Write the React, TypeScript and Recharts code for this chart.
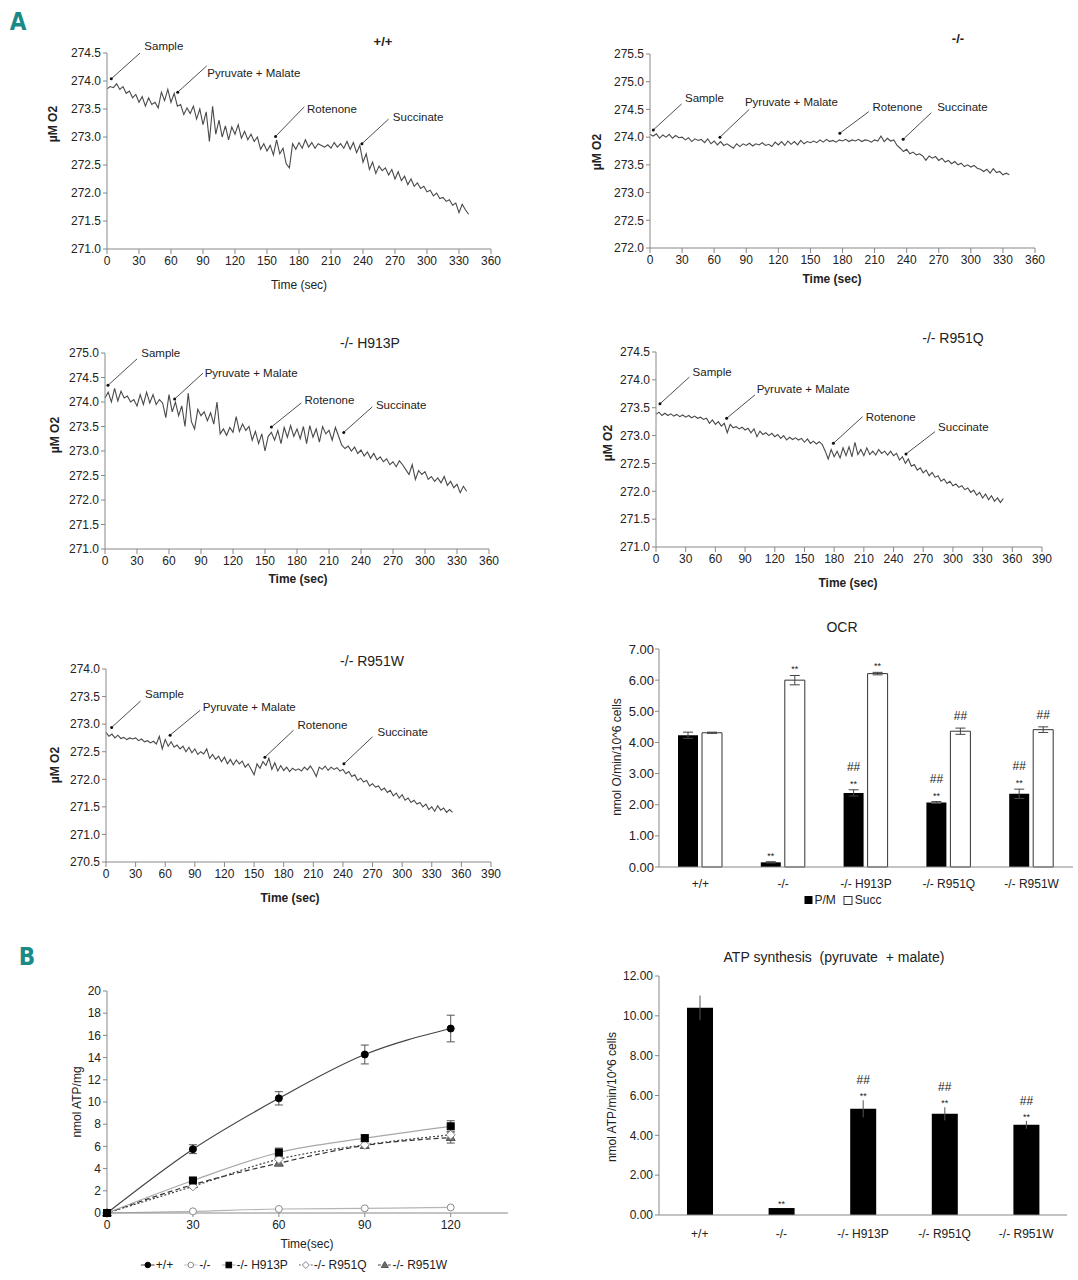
import React from 'react';
import {
  LineChart, Line, XAxis, YAxis, ReferenceLine, ReferenceDot,
  BarChart, Bar, ErrorBar, LabelList,
} from 'recharts';

const FONT = '"Liberation Sans", Arial, Helvetica, sans-serif';
const TRACE_STEP = 3; // seconds between trace samples

// ---------- Oxygen traces (µM O2), one value every 3 s ----------
const traceWT = [
  273.86, 273.90, 273.88, 273.95, 273.85, 273.90, 273.78, 273.82, 273.70, 273.76,
  273.62, 273.72, 273.55, 273.70, 273.58, 273.62, 273.52, 273.80, 273.65, 273.85,
  273.62, 273.78, 273.55, 273.58, 273.40, 273.52, 273.42, 273.55, 273.32, 273.50,
  273.22, 273.45, 272.92, 273.55, 273.05, 273.30, 273.00, 273.20, 272.95, 273.18,
  273.05, 273.22, 272.98, 273.10, 272.95, 273.05, 272.92, 273.00, 272.78, 272.88,
  272.75, 272.85, 272.68, 272.95, 272.70, 272.80, 272.52, 272.45, 272.88, 272.78,
  272.90, 272.80, 272.95, 272.82, 272.90, 272.80, 272.88, 272.85, 272.82, 272.86,
  272.80, 272.90, 272.82, 272.88, 272.80, 272.92, 272.78, 272.90, 272.72, 272.85,
  272.55, 272.70, 272.42, 272.55, 272.35, 272.48, 272.40, 272.45, 272.32, 272.42,
  272.25, 272.38, 272.22, 272.30, 272.15, 272.25, 272.12, 272.18, 272.08, 272.12,
  272.02, 272.05, 271.95, 272.00, 271.90, 271.92, 271.85, 271.88, 271.78, 271.82,
  271.65, 271.80, 271.70, 271.62,
];
const traceKO = [
  274.05, 274.02, 274.06, 273.98, 274.04, 274.00, 274.05, 273.98, 274.03, 273.99,
  274.00, 273.95, 273.99, 273.92, 273.97, 273.94, 273.96, 273.90, 273.97, 273.88,
  273.93, 273.86, 273.92, 273.85, 273.88, 273.84, 273.80, 273.88, 273.83, 273.88,
  273.85, 273.89, 273.84, 273.88, 273.86, 273.90, 273.85, 273.87, 273.83, 273.91,
  273.86, 273.92, 273.85, 273.93, 273.87, 273.92, 273.86, 273.94, 273.88, 273.92,
  273.90, 273.93, 273.90, 273.95, 273.91, 273.96, 273.92, 273.94, 273.91, 273.95,
  273.93, 273.96, 273.92, 273.95, 273.93, 273.96, 273.92, 273.95, 273.94, 273.91,
  273.95, 273.93, 274.02, 273.92, 273.98, 273.93, 273.95, 273.85, 273.80, 273.74,
  273.78, 273.70, 273.73, 273.68, 273.70, 273.66, 273.58, 273.66, 273.62, 273.65,
  273.58, 273.62, 273.55, 273.58, 273.52, 273.56, 273.50, 273.53, 273.47, 273.50,
  273.46, 273.49, 273.44, 273.42, 273.38, 273.42, 273.35, 273.43, 273.36, 273.38,
  273.32, 273.35, 273.32,
];
const traceH913P = [
  274.08, 274.20, 274.00, 274.28, 274.02, 274.22, 274.08, 274.12, 274.00, 274.05,
  273.92, 274.15, 273.95, 274.20, 273.98, 274.15, 273.95, 274.05, 273.98, 273.68,
  274.15, 273.80, 274.00, 273.72, 273.92, 273.50, 274.18, 273.60, 273.45, 273.85,
  273.72, 273.80, 273.62, 273.78, 273.55, 274.00, 273.35, 273.45, 273.32, 273.48,
  273.38, 273.70, 273.40, 273.55, 273.42, 273.50, 273.22, 273.40, 273.15, 273.35,
  273.00, 273.30, 273.38, 273.22, 273.42, 273.15, 273.48, 273.28, 273.52, 273.30,
  273.45, 273.25, 273.50, 273.15, 273.52, 273.28, 273.45, 273.18, 273.50, 273.35,
  273.42, 273.22, 273.48, 273.30, 273.12, 273.05, 273.10, 273.00, 273.08, 272.95,
  273.02, 272.90, 272.98, 272.85, 272.95, 272.82, 272.88, 272.78, 272.84, 272.72,
  272.78, 272.68, 272.80, 272.72, 272.62, 272.52, 272.72, 272.42, 272.60, 272.52,
  272.58, 272.42, 272.48, 272.38, 272.45, 272.35, 272.48, 272.30, 272.38, 272.25,
  272.32, 272.15, 272.28, 272.18,
];
const traceR951Q = [
  273.38, 273.42, 273.36, 273.40, 273.36, 273.39, 273.35, 273.38, 273.34, 273.37,
  273.33, 273.36, 273.32, 273.35, 273.31, 273.33, 273.29, 273.31, 273.22, 273.28,
  273.20, 273.25, 273.17, 273.22, 273.05, 273.20, 273.14, 273.16, 273.12, 273.15,
  273.10, 273.13, 273.05, 273.12, 272.98, 273.08, 273.02, 273.05, 273.00, 273.04,
  272.98, 273.02, 272.95, 273.00, 272.92, 272.97, 272.93, 272.96, 272.92, 272.95,
  272.88, 272.94, 272.86, 272.90, 272.85, 272.89, 272.84, 272.72, 272.58, 272.75,
  272.62, 272.72, 272.60, 272.78, 272.64, 272.80, 272.62, 272.88, 272.66, 272.75,
  272.64, 272.78, 272.66, 272.72, 272.65, 272.75, 272.68, 272.72, 272.65, 272.72,
  272.64, 272.68, 272.56, 272.62, 272.50, 272.58, 272.45, 272.48, 272.38, 272.42,
  272.33, 272.38, 272.28, 272.34, 272.25, 272.28, 272.18, 272.22, 272.14, 272.18,
  272.10, 272.13, 272.07, 272.10, 272.03, 272.06, 271.98, 272.02, 271.93, 271.98,
  271.88, 271.95, 271.85, 271.92, 271.82, 271.88, 271.80, 271.87,
];
const traceR951W = [
  272.85, 272.78, 272.82, 272.75, 272.80, 272.74, 272.76, 272.72, 272.75, 272.73,
  272.75, 272.70, 272.73, 272.68, 272.70, 272.66, 272.69, 272.64, 272.78, 272.55,
  272.72, 272.60, 272.68, 272.58, 272.62, 272.55, 272.60, 272.50, 272.58, 272.48,
  272.55, 272.45, 272.50, 272.46, 272.55, 272.38, 272.45, 272.36, 272.42, 272.32,
  272.40, 272.28, 272.36, 272.26, 272.35, 272.28, 272.33, 272.22, 272.28, 272.18,
  272.08, 272.28, 272.20, 272.32, 272.25, 272.38, 272.18, 272.30, 272.15, 272.25,
  272.16, 272.22, 272.14, 272.20, 272.16, 272.19, 272.15, 272.22, 272.17, 272.24,
  272.16, 272.05, 272.22, 272.18, 272.24, 272.16, 272.22, 272.18, 272.21, 272.15,
  272.18, 272.10, 272.14, 272.05, 272.08, 271.98, 272.02, 271.95, 271.98, 271.88,
  271.92, 271.86, 271.88, 271.80, 271.84, 271.76, 271.80, 271.70, 271.75, 271.66,
  271.72, 271.62, 271.66, 271.58, 271.62, 271.55, 271.58, 271.50, 271.55, 271.45,
  271.50, 271.42, 271.52, 271.44, 271.48, 271.40, 271.45, 271.40,
];

const xTicks360 = [0, 30, 60, 90, 120, 150, 180, 210, 240, 270, 300, 330, 360];
const xTicks390 = [0, 30, 60, 90, 120, 150, 180, 210, 240, 270, 300, 330, 360, 390];
const yTicksWT = [271, 271.5, 272, 272.5, 273, 273.5, 274, 274.5];
const yTicksKO = [272, 272.5, 273, 273.5, 274, 274.5, 275, 275.5];
const yTicksH913P = [271, 271.5, 272, 272.5, 273, 273.5, 274, 274.5, 275];
const yTicksR951Q = [271, 271.5, 272, 272.5, 273, 273.5, 274, 274.5];
const yTicksR951W = [270.5, 271, 271.5, 272, 272.5, 273, 273.5, 274];

// annotation: label position (tx,ty), arrow from (x1,y1) to tip (x2,y2) in data units
const annWT = [
  { label: 'Sample', tx: 35, ty: 274.63, x1: 31, y1: 274.5, x2: 4, y2: 274.04 },
  { label: 'Pyruvate + Malate', tx: 94, ty: 274.15, x1: 93.5, y1: 274.27, x2: 66.3, y2: 273.8 },
  { label: 'Rotenone', tx: 187.5, ty: 273.5, x1: 185, y1: 273.54, x2: 158, y2: 273.01 },
  { label: 'Succinate', tx: 268, ty: 273.35, x1: 264, y1: 273.32, x2: 239, y2: 272.88 },
];
const annKO = [
  { label: 'Sample', tx: 32.7, ty: 274.7, x1: 29.6, y1: 274.6, x2: 3.1, y2: 274.13 },
  { label: 'Pyruvate + Malate', tx: 88.8, ty: 274.63, x1: 92.8, y1: 274.5, x2: 65.4, y2: 274.0 },
  { label: 'Rotenone', tx: 208, ty: 274.55, x1: 204.6, y1: 274.46, x2: 177.5, y2: 274.07 },
  { label: 'Succinate', tx: 268.5, ty: 274.54, x1: 263, y1: 274.44, x2: 236.7, y2: 273.96 },
];
const annH913P = [
  { label: 'Sample', tx: 34, ty: 275.0, x1: 30, y1: 274.88, x2: 2.8, y2: 274.34 },
  { label: 'Pyruvate + Malate', tx: 93.4, ty: 274.6, x1: 91.9, y1: 274.59, x2: 65.3, y2: 274.06 },
  { label: 'Rotenone', tx: 187, ty: 274.05, x1: 184, y1: 273.98, x2: 156, y2: 273.49 },
  { label: 'Succinate', tx: 254, ty: 273.94, x1: 250.6, y1: 273.9, x2: 223.8, y2: 273.38 },
];
const annR951Q = [
  { label: 'Sample', tx: 37, ty: 274.15, x1: 33.7, y1: 274.05, x2: 4, y2: 273.57 },
  { label: 'Pyruvate + Malate', tx: 101.7, ty: 273.84, x1: 100, y1: 273.73, x2: 71.4, y2: 273.31 },
  { label: 'Rotenone', tx: 212, ty: 273.34, x1: 208.8, y1: 273.34, x2: 179.2, y2: 272.86 },
  { label: 'Succinate', tx: 285, ty: 273.16, x1: 281.9, y1: 273.07, x2: 252.6, y2: 272.67 },
];
const annR951W = [
  { label: 'Sample', tx: 39.5, ty: 273.55, x1: 35.1, y1: 273.42, x2: 5.7, y2: 272.94 },
  { label: 'Pyruvate + Malate', tx: 98, ty: 273.32, x1: 95.3, y1: 273.25, x2: 64.9, y2: 272.8 },
  { label: 'Rotenone', tx: 194, ty: 272.98, x1: 190, y1: 272.89, x2: 161, y2: 272.4 },
  { label: 'Succinate', tx: 275, ty: 272.85, x1: 270, y1: 272.77, x2: 241, y2: 272.28 },
];

// ---------- OCR bars ----------
const groups = ['+/+', '-/-', '-/- H913P', '-/- R951Q', '-/- R951W'];
const ocrPM = [4.23, 0.15, 2.38, 2.07, 2.35];
const ocrPMErr = [0.1, 0.02, 0.1, 0.03, 0.15];
const ocrSucc = [4.31, 6.0, 6.21, 4.36, 4.41];
const ocrSuccErr = [0.02, 0.15, 0.04, 0.1, 0.09];
const ocrPMStars = ['', '**', '**', '**', '**'];
const ocrPMHash = ['', '', '##', '##', '##'];
const ocrSuccStars = ['', '**', '**', '', ''];
const ocrSuccHash = ['', '', '', '##', '##'];
const ocrTicks = [0, 1, 2, 3, 4, 5, 6, 7];

// ---------- ATP time course ----------
const atpTimes = [0, 30, 60, 90, 120];
const atpWT = [0, 5.75, 10.33, 14.28, 16.62];
const atpWTErr = [0, 0.4, 0.6, 0.85, 1.2];
const atpKO = [0, 0.15, 0.36, 0.42, 0.5];
const atpH913P = [0, 2.93, 5.45, 6.74, 7.81];
const atpH913PErr = [0, 0, 0.4, 0.3, 0.5];
const atpR951Q = [0, 2.4, 4.85, 6.14, 7.04];
const atpR951W = [0, 2.55, 4.49, 6.08, 6.8];
const atpR951WErr = [0, 0, 0, 0, 0.5];
const atpYTicks = [0, 2, 4, 6, 8, 10, 12, 14, 16, 18, 20];
const atpXTicks = [0, 30, 60, 90, 120];

// ---------- ATP synthesis bars ----------
const atpSyn = [10.4, 0.35, 5.33, 5.08, 4.53];
const atpSynErr = [0.62, 0, 0.43, 0.33, 0.2];
const atpSynStars = ['', '**', '**', '**', '**'];
const atpSynHash = ['', '', '##', '##', '##'];
const atpSynTicks = [0, 2, 4, 6, 8, 10, 12];

const tickStyle = { fontSize: 12, fill: '#222', fontFamily: FONT };

function Txt(props: any) {
  const { x, y, children, size = 12, weight = 'normal', rotate = false, color = '#222', family = FONT } = props;
  return (
    <div
      style={{
        position: 'absolute', left: x, top: y,
        transform: `translate(-50%, -50%)${rotate ? ' rotate(-90deg)' : ''}`,
        fontSize: size, fontWeight: weight, fontFamily: family, whiteSpace: 'pre',
        color, lineHeight: 1,
      }}
    >
      {children}
    </div>
  );
}

function TracePanel(props: any) {
  const { box, values, xTicks, yTicks, ann } = props;
  const data = values.map((v: number, i: number) => ({ t: i * TRACE_STEP, v }));
  return (
    <div style={{ position: 'absolute', left: box.left, top: box.top }}>
      <LineChart
        width={box.w}
        height={box.h}
        data={data}
        margin={{ top: box.mt, right: box.mr, bottom: box.mb, left: 0 }}
      >
        <XAxis
          dataKey="t" type="number" domain={[0, xTicks[xTicks.length - 1]]}
          ticks={xTicks} interval={0} tick={tickStyle} stroke="#888"
          tickSize={5} tickMargin={2} height={30}
        />
        <YAxis
          type="number" domain={[yTicks[0], yTicks[yTicks.length - 1]]}
          ticks={yTicks} interval={0} tickFormatter={(v: number) => v.toFixed(1)}
          width={box.yw} tick={tickStyle} stroke="#888" tickSize={4} tickMargin={2}
          allowDataOverflow
        />
        <Line dataKey="v" type="linear" stroke="#4a4a4a" strokeWidth={1.1} dot={false} isAnimationActive={false} />
        {ann.map((a: any, i: number) => (
          <ReferenceLine
            key={'l' + i}
            segment={[{ x: a.x1, y: a.y1 }, { x: a.x2, y: a.y2 }]}
            stroke="#222" strokeWidth={0.8} ifOverflow="visible"
          />
        ))}
        {ann.map((a: any, i: number) => (
          <ReferenceDot key={'d' + i} x={a.x2} y={a.y2} r={1.5} fill="#111" stroke="none" ifOverflow="visible" />
        ))}
        {ann.map((a: any, i: number) => (
          <ReferenceDot
            key={'t' + i} x={a.tx} y={a.ty} r={0} ifOverflow="visible"
            shape={(p: any) => (
              <text x={p.cx} y={p.cy} dy="0.35em" fontSize={11.5} fontFamily={FONT} fill="#222">
                {a.label}
              </text>
            )}
          />
        ))}
      </LineChart>
    </div>
  );
}

function markContent(vals: number[], errs: number[], stars: string[], hashes: string[], g: any) {
  return (props: any) => {
    const vb = props.viewBox || {};
    const x = props.x ?? vb.x;
    const y = props.y ?? vb.y;
    const width = props.width ?? vb.width;
    const height = props.height ?? vb.height;
    const index = props.index;
    if (x == null || index == null) return null;
    const v = vals[index];
    const scale = v ? Math.abs(height) / v : 0;
    const top = Math.min(y, y + height) - errs[index] * scale;
    const cx = x + width / 2;
    const s = stars[index];
    const h = hashes[index];
    return (
      <g>
        {s ? (
          <text x={cx} y={top - g.starOff} textAnchor="middle" fontSize={9} fontFamily={FONT} fill="#222">{s}</text>
        ) : null}
        {h ? (
          <text x={cx} y={top - (s ? g.hashOffWithStar : g.hashOff)} textAnchor="middle" fontSize={12} fontFamily={FONT} fill="#222">{h}</text>
        ) : null}
      </g>
    );
  };
}

function OcrChart() {
  const data = groups.map((g, i) => ({
    g, pm: ocrPM[i], pmE: ocrPMErr[i], succ: ocrSucc[i], succE: ocrSuccErr[i],
  }));
  const off = { starOff: 3, hashOff: 8, hashOffWithStar: 19 };
  return (
    <div style={{ position: 'absolute', left: 590, top: 630 }}>
      <BarChart
        width={488} height={290} data={data}
        margin={{ top: 19, right: 5, bottom: 23, left: 0 }}
        barSize={20} barGap={4}
      >
        <XAxis dataKey="g" tick={tickStyle} stroke="#888" tickLine={false} height={30} tickMargin={6} />
        <YAxis
          type="number" domain={[0, 7]} ticks={ocrTicks} interval={0}
          tickFormatter={(v: number) => v.toFixed(2)} width={69}
          tick={{ ...tickStyle, fontSize: 13 }} stroke="#888" tickSize={4} tickMargin={1}
        />
        <Bar dataKey="pm" fill="#000" isAnimationActive={false}>
          <ErrorBar dataKey="pmE" width={5} stroke="#444" strokeWidth={1} />
          <LabelList dataKey="pm" content={markContent(ocrPM, ocrPMErr, ocrPMStars, ocrPMHash, off)} />
        </Bar>
        <Bar dataKey="succ" fill="#fff" stroke="#333" strokeWidth={1} isAnimationActive={false}>
          <ErrorBar dataKey="succE" width={5} stroke="#444" strokeWidth={1} />
          <LabelList dataKey="succ" content={markContent(ocrSucc, ocrSuccErr, ocrSuccStars, ocrSuccHash, off)} />
        </Bar>
      </BarChart>
    </div>
  );
}

function AtpSynChart() {
  const data = groups.map((g, i) => ({ g, v: atpSyn[i], e: atpSynErr[i] }));
  const off = { starOff: 1, hashOff: 8, hashOffWithStar: 16 };
  return (
    <div style={{ position: 'absolute', left: 590, top: 950 }}>
      <BarChart
        width={488} height={300} data={data}
        margin={{ top: 26, right: 11, bottom: 5, left: 0 }}
        barSize={26}
      >
        <XAxis dataKey="g" tick={tickStyle} stroke="#888" tickLine={false} height={30} tickMargin={8} />
        <YAxis
          type="number" domain={[0, 12]} ticks={atpSynTicks} interval={0}
          tickFormatter={(v: number) => v.toFixed(2)} width={69}
          tick={tickStyle} stroke="#888" tickSize={4} tickMargin={2}
        />
        <Bar dataKey="v" fill="#000" isAnimationActive={false}>
          <ErrorBar dataKey="e" width={0} stroke="#555" strokeWidth={1} />
          <LabelList dataKey="v" content={markContent(atpSyn, atpSynErr, atpSynStars, atpSynHash, off)} />
        </Bar>
      </BarChart>
    </div>
  );
}

function makeDot(kind: string, fill: string, stroke: string) {
  return (p: any) => {
    const { cx, cy, index } = p;
    const k = `${kind}-${index}`;
    if (cx == null || cy == null) return <g key={k} />;
    if (kind === 'circle') return <circle key={k} cx={cx} cy={cy} r={3.5} fill={fill} stroke={stroke} strokeWidth={1} />;
    if (kind === 'square') return <rect key={k} x={cx - 3.5} y={cy - 3.5} width={7} height={7} fill={fill} stroke={stroke} />;
    if (kind === 'diamond')
      return <polygon key={k} points={`${cx},${cy - 4.5} ${cx + 4.5},${cy} ${cx},${cy + 4.5} ${cx - 4.5},${cy}`} fill={fill} stroke={stroke} strokeWidth={1} />;
    return <polygon key={k} points={`${cx},${cy - 4.5} ${cx + 4.5},${cy + 3} ${cx - 4.5},${cy + 3}`} fill={fill} stroke={stroke} strokeWidth={1} />;
  };
}

const atpSeries = [
  { key: 'ko', name: '-/-', line: '#b5b5b5', dash: undefined, dot: makeDot('circle', '#fff', '#8a8a8a') },
  { key: 'r951w', name: '-/- R951W', line: '#333', dash: '5 3', dot: makeDot('triangle', '#6e6e6e', '#555') },
  { key: 'r951q', name: '-/- R951Q', line: '#444', dash: '2 2', dot: makeDot('diamond', '#fff', '#888') },
  { key: 'h913p', name: '-/- H913P', line: '#a8a8a8', dash: undefined, dot: makeDot('square', '#000', '#000') },
  { key: 'wt', name: '+/+', line: '#444', dash: undefined, dot: makeDot('circle', '#000', '#000') },
];

function AtpLineChart() {
  const data = atpTimes.map((t, i) => ({
    t, wt: atpWT[i], wtE: atpWTErr[i], ko: atpKO[i], h913p: atpH913P[i], h913pE: atpH913PErr[i],
    r951q: atpR951Q[i], r951w: atpR951W[i], r951wE: atpR951WErr[i],
  }));
  const errKey: any = { wt: 'wtE', h913p: 'h913pE', r951w: 'r951wE' };
  return (
    <div style={{ position: 'absolute', left: 40, top: 975 }}>
      <LineChart width={480} height={290} data={data} margin={{ top: 16, right: 12, bottom: 22, left: 0 }}>
        <XAxis
          dataKey="t" type="number" domain={[0, 140]} ticks={atpXTicks} interval={0}
          tick={tickStyle} stroke="#888" tickSize={4} tickMargin={3} height={30}
        />
        <YAxis
          type="number" domain={[0, 20]} ticks={atpYTicks} interval={0} width={67}
          tick={tickStyle} stroke="#888" tickSize={4} tickMargin={2}
        />
        {atpSeries.map((s) => (
          <Line
            key={s.key} dataKey={s.key} type="monotone" stroke={s.line} strokeWidth={1.2}
            strokeDasharray={s.dash} dot={s.dot} activeDot={false} isAnimationActive={false}
          >
            {errKey[s.key] ? <ErrorBar dataKey={errKey[s.key]} width={4} stroke="#555" strokeWidth={1} direction="y" /> : null}
          </Line>
        ))}
      </LineChart>
    </div>
  );
}

function LegendIcon(props: any) {
  const { kind, fill, stroke, line, dash } = props;
  const cx = 7, cy = 6;
  let mark: any;
  if (kind === 'circle') mark = <circle cx={cx} cy={cy} r={2.8} fill={fill} stroke={stroke} />;
  else if (kind === 'square') mark = <rect x={cx - 2.8} y={cy - 2.8} width={5.6} height={5.6} fill={fill} stroke={stroke} />;
  else if (kind === 'diamond') mark = <polygon points={`${cx},${cy - 3.5} ${cx + 3.5},${cy} ${cx},${cy + 3.5} ${cx - 3.5},${cy}`} fill={fill} stroke={stroke} />;
  else mark = <polygon points={`${cx},${cy - 3.5} ${cx + 3.5},${cy + 2.5} ${cx - 3.5},${cy + 2.5}`} fill={fill} stroke={stroke} />;
  return (
    <svg width={14} height={12} style={{ marginRight: 1 }}>
      <line x1={0} y1={cy} x2={14} y2={cy} stroke={line} strokeWidth={1.2} strokeDasharray={dash} />
      {mark}
    </svg>
  );
}

const atpLegend = [
  { name: '+/+', kind: 'circle', fill: '#000', stroke: '#000', line: '#444' },
  { name: '-/-', kind: 'circle', fill: '#fff', stroke: '#8a8a8a', line: '#c5c5c5' },
  { name: '-/- H913P', kind: 'square', fill: '#000', stroke: '#000', line: '#a8a8a8' },
  { name: '-/- R951Q', kind: 'diamond', fill: '#fff', stroke: '#888', line: '#666', dash: '2 2' },
  { name: '-/- R951W', kind: 'triangle', fill: '#6e6e6e', stroke: '#555', line: '#444', dash: '3 2' },
];

export default function App() {
  return (
    <div style={{ position: 'absolute', left: 0, top: 0, width: 1078, height: 1280, background: '#fff', overflow: 'hidden', fontFamily: FONT }}>
      <TracePanel
        box={{ left: 40, top: 20, w: 470, h: 290, yw: 67, mt: 33, mr: 19, mb: 31 }}
        values={traceWT} xTicks={xTicks360} yTicks={yTicksWT} ann={annWT}
      />
      <TracePanel
        box={{ left: 580, top: 20, w: 470, h: 290, yw: 70, mt: 34, mr: 15, mb: 32 }}
        values={traceKO} xTicks={xTicks360} yTicks={yTicksKO} ann={annKO}
      />
      <TracePanel
        box={{ left: 40, top: 330, w: 470, h: 270, yw: 65, mt: 23, mr: 21, mb: 21 }}
        values={traceH913P} xTicks={xTicks360} yTicks={yTicksH913P} ann={annH913P}
      />
      <TracePanel
        box={{ left: 580, top: 330, w: 480, h: 270, yw: 76, mt: 22, mr: 18, mb: 23 }}
        values={traceR951Q} xTicks={xTicks390} yTicks={yTicksR951Q} ann={annR951Q}
      />
      <TracePanel
        box={{ left: 40, top: 650, w: 470, h: 270, yw: 66, mt: 19, mr: 19, mb: 28 }}
        values={traceR951W} xTicks={xTicks390} yTicks={yTicksR951W} ann={annR951W}
      />
      <OcrChart />
      <AtpLineChart />
      <AtpSynChart />

      {/* panel letters */}
      <Txt x={18} y={22} size={24} weight="bold" color="#1b8a86" family='"Liberation Sans Narrow", "DejaVu Sans Condensed", sans-serif'>A</Txt>
      <Txt x={27} y={957} size={24} weight="bold" color="#1b8a86" family='"Liberation Sans Narrow", "DejaVu Sans Condensed", sans-serif'>B</Txt>

      {/* trace titles and axis labels */}
      <Txt x={383} y={41} size={13} weight="bold">+/+</Txt>
      <Txt x={299} y={285}>Time (sec)</Txt>
      <Txt x={53} y={124} weight="bold" rotate>µM O2</Txt>

      <Txt x={958} y={38} size={13} weight="bold">-/-</Txt>
      <Txt x={832} y={279} weight="bold">Time (sec)</Txt>
      <Txt x={597} y={152} weight="bold" rotate>µM O2</Txt>

      <Txt x={370} y={343} size={14}>-/- H913P</Txt>
      <Txt x={298} y={579} weight="bold">Time (sec)</Txt>
      <Txt x={55} y={435} weight="bold" rotate>µM O2</Txt>

      <Txt x={953} y={338} size={14}>-/- R951Q</Txt>
      <Txt x={848} y={583} weight="bold">Time (sec)</Txt>
      <Txt x={608} y={443} weight="bold" rotate>µM O2</Txt>

      <Txt x={372} y={661} size={14}>-/- R951W</Txt>
      <Txt x={290} y={898} weight="bold">Time (sec)</Txt>
      <Txt x={55} y={765} weight="bold" rotate>µM O2</Txt>

      {/* OCR */}
      <Txt x={842} y={627} size={14}>OCR</Txt>
      <Txt x={617} y={757} rotate>nmol O/min/10^6 cells</Txt>
      <div style={{ position: 'absolute', left: 843, top: 900, transform: 'translate(-50%, -50%)', display: 'flex', alignItems: 'center', fontSize: 12, fontFamily: FONT, color: '#222', whiteSpace: 'pre', lineHeight: 1 }}>
        <span style={{ display: 'inline-block', width: 8, height: 8, background: '#000', marginRight: 2 }} />
        <span>P/M</span>
        <span style={{ display: 'inline-block', width: 7, height: 7, background: '#fff', border: '1px solid #333', marginLeft: 8, marginRight: 2 }} />
        <span>Succ</span>
      </div>

      {/* ATP time course */}
      <Txt x={307} y={1244}>Time(sec)</Txt>
      <Txt x={77} y={1102} rotate>nmol ATP/mg</Txt>
      <div style={{ position: 'absolute', left: 294, top: 1265, transform: 'translate(-50%, -50%)', display: 'flex', alignItems: 'center', fontSize: 12, fontFamily: FONT, color: '#222', whiteSpace: 'pre', lineHeight: 1 }}>
        {atpLegend.map((l, i) => (
          <span key={l.name} style={{ display: 'flex', alignItems: 'center', marginLeft: i ? 11 : 0 }}>
            <LegendIcon {...l} />
            <span>{l.name}</span>
          </span>
        ))}
      </div>

      {/* ATP synthesis */}
      <Txt x={834} y={957} size={14}>{'ATP synthesis  (pyruvate  + malate)'}</Txt>
      <Txt x={612} y={1097} rotate>nmol ATP/min/10^6 cells</Txt>
    </div>
  );
}
